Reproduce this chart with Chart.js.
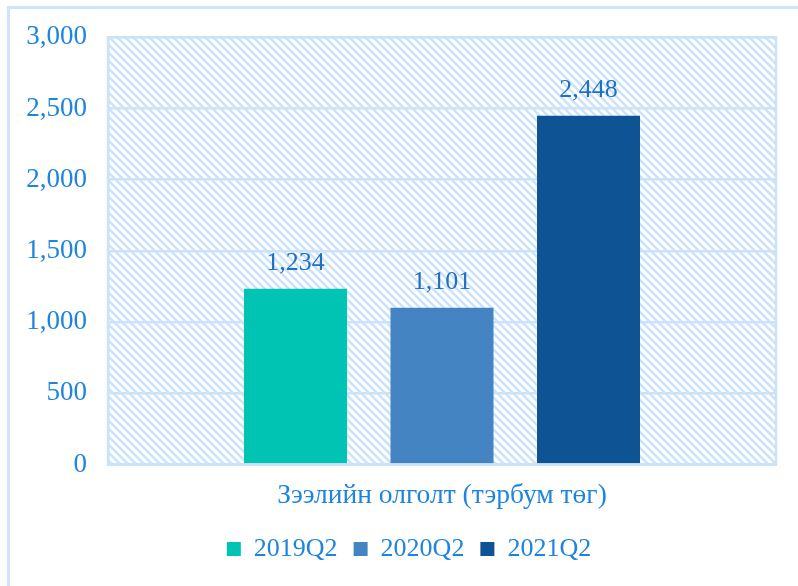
<!DOCTYPE html>
<html>
<head>
<meta charset="utf-8">
<script src="https://cdn.jsdelivr.net/npm/chart.js@4/dist/chart.umd.min.js"></script>
<style>
  html, body { margin: 0; padding: 0; background: #fff; }
  #wrap { position: relative; width: 798px; height: 586px; overflow: hidden; }
  #frame { position: absolute; left: 7px; top: 6px; width: 900px; height: 700px; border: 3px solid #CDE4F9; box-sizing: border-box; }
  canvas { position: absolute; left: 0; top: 0; }
</style>
</head>
<body>
<div id="wrap">
  <div id="frame"></div>
  <canvas id="c" width="798" height="586"></canvas>
</div>
<script>
const categories = ["Зээлийн олголт (тэрбум төг)"];
const seriesNames = ["2019Q2", "2020Q2", "2021Q2"];
const values2019Q2 = [1234];
const values2020Q2 = [1101];
const values2021Q2 = [2448];
const yTicks = [0, 500, 1000, 1500, 2000, 2500, 3000];

const seriesColors = ["#00C4B3", "#4584C2", "#0E5394"];
const textColor = "#1E84DE";
const labelColor = "#1F6FC2";
const lineColor = "#CBE2F8";
const FONT = "'Liberation Serif', 'Times New Roman', serif";

function makePattern() {
  const t = document.createElement('canvas');
  t.width = 8; t.height = 8;
  const g = t.getContext('2d');
  g.fillStyle = '#ffffff';
  g.fillRect(0, 0, 8, 8);
  g.strokeStyle = '#CBE3FA';
  g.lineWidth = 2.6;
  g.beginPath();
  g.moveTo(-2, -2); g.lineTo(10, 10);
  g.moveTo(-10, -2); g.lineTo(2, 10);
  g.moveTo(6, -2); g.lineTo(18, 10);
  g.stroke();
  return g.createPattern(t, 'repeat');
}

const bgPlugin = {
  id: 'bg',
  afterLayout(chart) {
    if (chart.legend) { chart.legend.left += 42; }
  },
  beforeDraw(chart) {
    const { ctx, chartArea: a } = chart;
    ctx.save();
    ctx.fillStyle = makePattern();
    ctx.fillRect(a.left, a.top, a.right - a.left, a.bottom - a.top);
    ctx.restore();
  },
  afterDatasetsDraw(chart) {
    const { ctx, chartArea: a } = chart;
    ctx.save();
    ctx.strokeStyle = lineColor;
    ctx.lineWidth = 2.5;
    ctx.strokeRect(a.left, a.top, a.right - a.left, a.bottom - a.top);
    ctx.restore();
  }
};

const valueLabels = {
  id: 'valueLabels',
  afterDatasetsDraw(chart) {
    const { ctx } = chart;
    ctx.save();
    ctx.font = "26px " + FONT;
    ctx.fillStyle = labelColor;
    ctx.textAlign = 'center';
    ctx.textBaseline = 'middle';
    chart.data.datasets.forEach((ds, i) => {
      const meta = chart.getDatasetMeta(i);
      meta.data.forEach((bar, j) => {
        ctx.fillText(ds.data[j].toLocaleString('en-US'), bar.x, bar.y - 26);
      });
    });
    ctx.restore();
  }
};

const allSeries = [values2019Q2, values2020Q2, values2021Q2];

new Chart(document.getElementById('c'), {
  type: 'bar',
  data: {
    labels: categories,
    datasets: seriesNames.map((n, i) => ({
      label: n,
      data: allSeries[i],
      backgroundColor: seriesColors[i],
      borderWidth: 0,
      categoryPercentage: 0.658,
      barPercentage: 0.703
    }))
  },
  options: {
    responsive: false,
    animation: false,
    devicePixelRatio: 1,
    layout: { padding: { top: 37, right: 22, left: 0, bottom: 14 } },
    plugins: {
      legend: {
        position: 'bottom',
        labels: {
          font: { family: FONT, size: 26 },
          color: textColor,
          boxWidth: 14,
          boxHeight: 14,
          padding: 16
        }
      },
      tooltip: { enabled: false }
    },
    scales: {
      x: {
        grid: { display: false, drawTicks: false },
        border: { color: lineColor, width: 2.5 },
        ticks: { display: false },
        title: {
          display: true,
          text: categories[0],
          color: textColor,
          font: { family: FONT, size: 27.5, lineHeight: 1.2 },
          padding: { top: 15, bottom: 7.5 }
        }
      },
      y: {
        min: 0, max: 3000,
        afterFit(s) { s.width = 108; },
        afterBuildTicks(s) { s.ticks = yTicks.map(v => ({ value: v })); },
        grid: { color: lineColor, lineWidth: 2.5, drawTicks: false },
        border: { color: lineColor, width: 2.5 },
        ticks: {
          font: { family: FONT, size: 27 },
          color: textColor,
          padding: 21,
          callback: v => v.toLocaleString('en-US')
        }
      }
    }
  },
  plugins: [bgPlugin, valueLabels]
});
</script>
</body>
</html>
